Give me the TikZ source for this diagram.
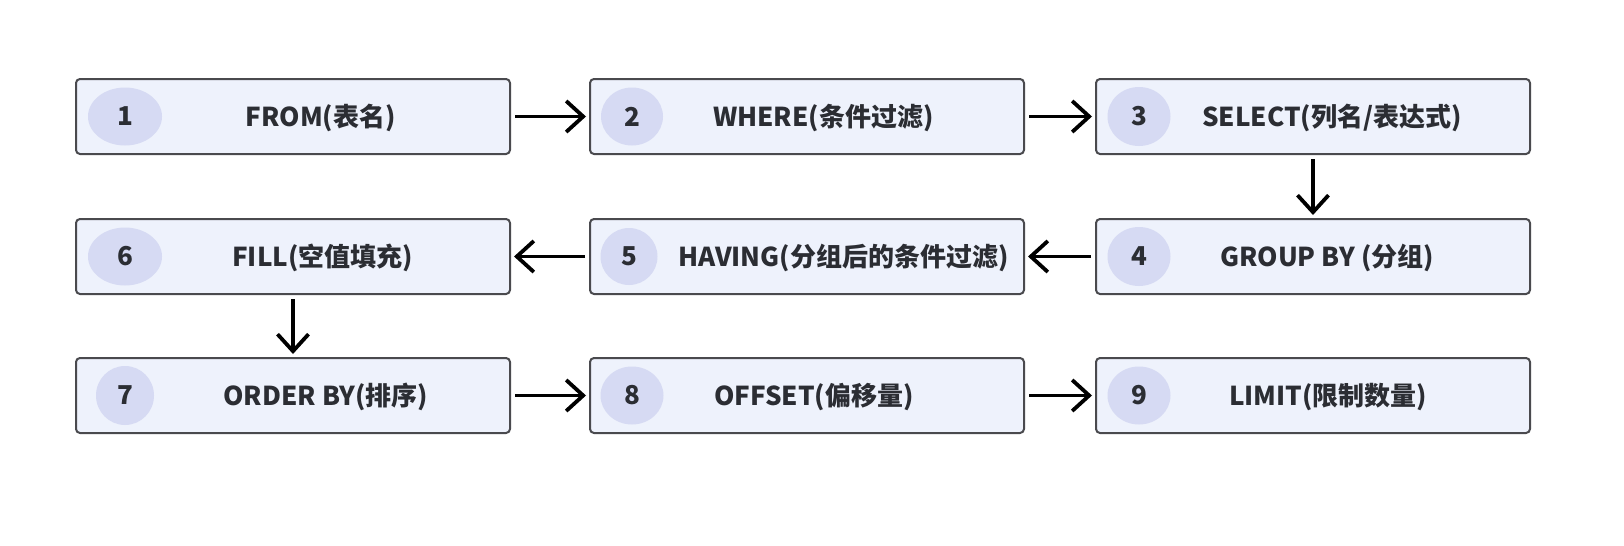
\documentclass[tikz,border=0pt]{standalone}
\usepackage{fontspec}
\setmainfont{Noto Sans CJK SC}
\usetikzlibrary{positioning,calc,arrows.meta,shapes.geometric}
\definecolor{boxfill}{RGB}{238,242,252}
\definecolor{boxline}{RGB}{74,74,78}
\definecolor{numfill}{RGB}{214,218,243}
\definecolor{textcol}{RGB}{43,45,51}
\begin{document}
\begin{tikzpicture}[x=0.5pt, y=-0.5pt, thick,
		stepbox/.style = {draw=boxline, fill=boxfill, line width=1pt, rounded corners=2pt, minimum width=217pt, minimum height=37.5pt, inner sep=0pt},
		num/.style = {fill=numfill, ellipse, inner sep=0pt, text=textcol, font=\bfseries\fontsize{13}{16}\selectfont},
		lbl/.style = {text=textcol, inner sep=0pt, yshift=-0.8pt, font=\bfseries\fontsize{13}{16}\selectfont},
		flow/.style = {-{Straight Barb[length=8.5pt,width=15.5pt,line width=1.9pt]}, line width=1.8pt, shorten >=1.5pt, shorten <=2pt}]
		\useasboundingbox (0,0) rectangle (1624,546);
		%Top row of steps
		\node[stepbox] (b1) at (293,116.5) {};
		\node[stepbox] (b2) [right=39pt of b1] {};
		\node[stepbox] (b3) [right=35pt of b2] {};
		%Middle row (runs right to left)
		\node[stepbox] (b4) [below=31.5pt of b3] {};
		\node[stepbox] (b5) [below=31.5pt of b2] {};
		\node[stepbox] (b6) [below=31.5pt of b1] {};
		%Bottom row
		\node[stepbox] (b7) [below=31pt of b6] {};
		\node[stepbox] (b8) [right=39pt of b7] {};
		\node[stepbox] (b9) [right=35pt of b8] {};
		
		%Step numbers
		\node[num, minimum width=37pt, minimum height=29pt] (n1) at ([xshift=25pt]b1.west) {1};
		\node[num, minimum width=31pt, minimum height=29pt] (n2) at ([xshift=21.5pt]b2.west) {2};
		\node[num, minimum width=31.5pt, minimum height=29.5pt] (n3) at ([xshift=22pt]b3.west) {3};
		\node[num, minimum width=31.5pt, minimum height=29.5pt] (n4) at ([xshift=22pt]b4.west) {4};
		\node[num, minimum width=28.5pt, minimum height=28.5pt] (n5) at ([xshift=20pt]b5.west) {5};
		\node[num, minimum width=37pt, minimum height=29pt] (n6) at ([xshift=25pt]b6.west) {6};
		\node[num, minimum width=29pt, minimum height=29.5pt] (n7) at ([xshift=25pt]b7.west) {7};
		\node[num, minimum width=31.5pt, minimum height=29pt] (n8) at ([xshift=21.5pt]b8.west) {8};
		\node[num, minimum width=31.5pt, minimum height=29pt] (n9) at ([xshift=22pt]b9.west) {9};
		
		%Step texts
		\node[lbl, xshift=1.3pt] (t1) at ($(n1)!0.5!(b1.east)$) {FROM(表名)};
		\node[lbl, xshift=-2.6pt] (t2) at ($(n2)!0.5!(b2.east)$) {WHERE(条件过滤)};
		\node[lbl, xshift=-1.6pt] (t3) at ($(n3)!0.5!(b3.east)$) {SELECT(列名/表达式)};
		\node[lbl, xshift=-4pt] (t4) at ($(n4)!0.5!(b4.east)$) {GROUP BY (分组)};
		\node[lbl, xshift=8.2pt] (t5) at ($(n5)!0.5!(b5.east)$) {HAVING(分组后的条件过滤)};
		\node[lbl, xshift=2.3pt] (t6) at ($(n6)!0.5!(b6.east)$) {FILL(空值填充)};
		\node[lbl, xshift=3.9pt] (t7) at ($(n7)!0.5!(b7.east)$) {ORDER BY(排序)};
		\node[lbl, xshift=-7.3pt] (t8) at ($(n8)!0.5!(b8.east)$) {OFFSET(偏移量)};
		\node[lbl, xshift=-3.4pt] (t9) at ($(n9)!0.5!(b9.east)$) {LIMIT(限制数量)};
		
		%Order of execution
		\draw[flow] (b1) -- (b2); %1 -> 2
		\draw[flow] (b2) -- (b3); %2 -> 3
		\draw[flow] (b3) -- (b4); %3 -> 4
		\draw[flow] (b4) -- (b5); %4 -> 5
		\draw[flow] (b5) -- (b6); %5 -> 6
		\draw[flow] (b6) -- (b7); %6 -> 7
		\draw[flow] (b7) -- (b8); %7 -> 8
		\draw[flow] (b8) -- (b9); %8 -> 9
	\end{tikzpicture}
\end{document}
